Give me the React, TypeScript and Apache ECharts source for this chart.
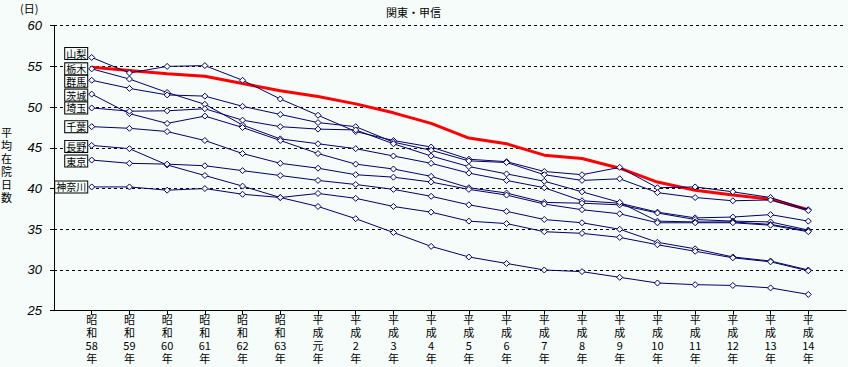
import React, { useEffect, useRef } from 'react';
import * as echarts from 'echarts';

const categories = [
  '昭和58年', '昭和59年', '昭和60年', '昭和61年', '昭和62年', '昭和63年',
  '平成元年', '平成2年', '平成3年', '平成4年', '平成5年', '平成6年', '平成7年',
  '平成8年', '平成9年', '平成10年', '平成11年', '平成12年', '平成13年', '平成14年',
];

const yTicks = [25, 30, 35, 40, 45, 50, 55, 60];

const zenkoku = [54.9, 54.5, 54.1, 53.8, 52.9, 52.0, 51.3, 50.4, 49.3, 48.0, 46.2, 45.5, 44.1, 43.7, 42.5, 40.8, 39.8, 39.2, 38.7, 37.4];
const yamanashi = [56.1, 54.2, 55.0, 55.1, 53.3, 51.0, 49.0, 47.0, 45.9, 45.1, 43.6, 43.3, 42.1, 41.7, 42.6, 40.1, 40.2, 39.6, 38.9, 37.4];
const tochigi = [54.7, 53.45, 51.8, 50.35, 47.8, 46.1, 45.5, 44.9, 44.0, 43.1, 41.9, 41.0, 40.1, 38.5, 38.2, 37.1, 36.4, 36.5, 36.8, 36.0];
const gunma = [53.3, 52.3, 51.5, 51.35, 50.1, 49.1, 48.1, 47.6, 45.7, 44.7, 43.4, 43.2, 41.7, 41.0, 41.2, 39.5, 38.9, 38.5, 38.6, 37.3];
const ibaraki = [51.6, 49.2, 48.0, 48.9, 47.5, 45.9, 44.3, 43.0, 42.4, 41.5, 40.1, 39.45, 38.3, 38.2, 38.0, 37.0, 36.2, 36.0, 35.9, 34.9];
const saitama = [49.9, 49.5, 49.55, 49.8, 48.4, 47.6, 47.3, 47.2, 45.5, 44.0, 42.7, 41.8, 40.9, 39.6, 38.3, 36.0, 35.9, 35.9, 35.6, 34.8];
const chiba = [47.6, 47.4, 47.0, 45.9, 44.3, 43.1, 42.5, 41.7, 41.4, 40.8, 39.9, 39.2, 38.1, 37.4, 36.9, 35.8, 35.8, 35.8, 35.5, 34.7];
const nagano = [45.3, 44.9, 42.9, 41.6, 40.3, 38.9, 37.8, 36.3, 34.6, 32.9, 31.6, 30.8, 30.0, 29.8, 29.1, 28.4, 28.2, 28.1, 27.8, 27.0];
const tokyo = [43.5, 43.1, 43.0, 42.8, 42.2, 41.6, 41.0, 40.5, 39.9, 39.05, 38.0, 37.2, 36.2, 35.8, 35.0, 33.4, 32.6, 31.6, 31.1, 30.0];
const kanagawa = [40.2, 40.2, 39.8, 40.0, 39.3, 38.9, 39.4, 38.8, 37.8, 37.1, 36.0, 35.7, 34.7, 34.5, 34.0, 33.1, 32.3, 31.5, 31.0, 29.9];

const prefNames = ['山梨', '栃木', '群馬', '茨城', '埼玉', '千葉', '長野', '東京', '神奈川'];
const prefData = [yamanashi, tochigi, gunma, ibaraki, saitama, chiba, nagano, tokyo, kanagawa];
const labelOffsets = [[0, -4], [0, 0], [0, 1], [0, 1], [0, 0], [0, 0], [0, 1], [0, 1], [0, 0]];

const NAVY = '#000066';
const BG = '#f6fcf9';
const JP = '"Noto Sans CJK JP", sans-serif';

export default function App() {
  const ref = useRef<HTMLDivElement>(null);

  useEffect(() => {
    const chart = echarts.init(ref.current!, null, { renderer: 'svg' });
    const cats = ['', ...categories, ''];
    const pad = (a: number[]) => [null, ...a, null];

    const prefSeries = prefNames.map((name, k) => ({
      type: 'line',
      name,
      data: pad(prefData[k]).map((v, i) =>
        i === 1
          ? {
              value: v,
              label: {
                show: true,
                position: 'left',
                distance: 1,
                offset: labelOffsets[k],
                formatter: name,
                color: '#000',
                fontSize: 10,
                fontFamily: JP,
                lineHeight: 11,
                backgroundColor: BG,
                borderColor: '#000',
                borderWidth: 1,
                padding: [0, 1, 0, 1],
              },
            }
          : v,
      ),
      symbol: 'diamond',
      symbolSize: 6,
      lineStyle: { color: NAVY, width: 1 },
      itemStyle: { color: '#ffffff', borderColor: NAVY, borderWidth: 1 },
      emphasis: { disabled: true },
      z: 3,
    }));

    chart.setOption({
      animation: false,
      backgroundColor: BG,
      title: {
        text: '関東・甲信',
        left: 381,
        top: 1,
        textStyle: { fontSize: 11, fontWeight: 'normal', color: '#000', fontFamily: JP },
      },
      graphic: [
        {
          type: 'text',
          left: 20,
          top: 2,
          style: { text: '(日)', fontSize: 11, fill: '#000', fontFamily: JP },
        },
        {
          type: 'text',
          left: 1,
          top: 125,
          style: {
            text: '平\n均\n在\n院\n日\n数',
            fontSize: 11,
            lineHeight: 13,
            fill: '#000',
            fontFamily: JP,
          },
        },
      ],
      grid: { left: 54, right: 2, top: 25.7, bottom: 56.3, containLabel: false },
      xAxis: {
        type: 'category',
        data: cats,
        boundaryGap: false,
        axisLine: { lineStyle: { color: '#000', width: 1 } },
        axisTick: {
          show: true,
          length: 4,
          interval: (_i: number, v: string) => v !== '',
          lineStyle: { color: '#000' },
        },
        axisLabel: {
          interval: (_i: number, v: string) => v !== '',
          formatter: (v: string) => (v.match(/\d+|./g) || []).join('\n'),
          color: '#000',
          fontSize: 11,
          lineHeight: 13,
          fontFamily: JP,
          margin: 2,
        },
        splitLine: { show: false },
      },
      yAxis: {
        type: 'value',
        min: yTicks[0],
        max: yTicks[yTicks.length - 1],
        interval: 5,
        axisLine: { show: true, lineStyle: { color: '#000', width: 1 } },
        axisTick: { show: true, length: 4, lineStyle: { color: '#000' } },
        axisLabel: {
          color: '#000',
          fontSize: 13,
          fontStyle: 'italic',
          fontFamily: '"Liberation Sans", sans-serif',
          margin: 12,
        },
        splitLine: { show: true, lineStyle: { color: '#000', type: [3, 3], width: 1 } },
      },
      series: [
        {
          type: 'line',
          name: '全国',
          data: pad(zenkoku),
          symbol: 'none',
          lineStyle: { color: '#ff0000', width: 3 },
          emphasis: { disabled: true },
          z: 2,
        },
        ...prefSeries,
      ],
    });

    return () => chart.dispose();
  }, []);

  return (
    <div
      ref={ref}
      style={{ position: 'fixed', left: 0, top: 0, width: 848, height: 367 }}
    />
  );
}
